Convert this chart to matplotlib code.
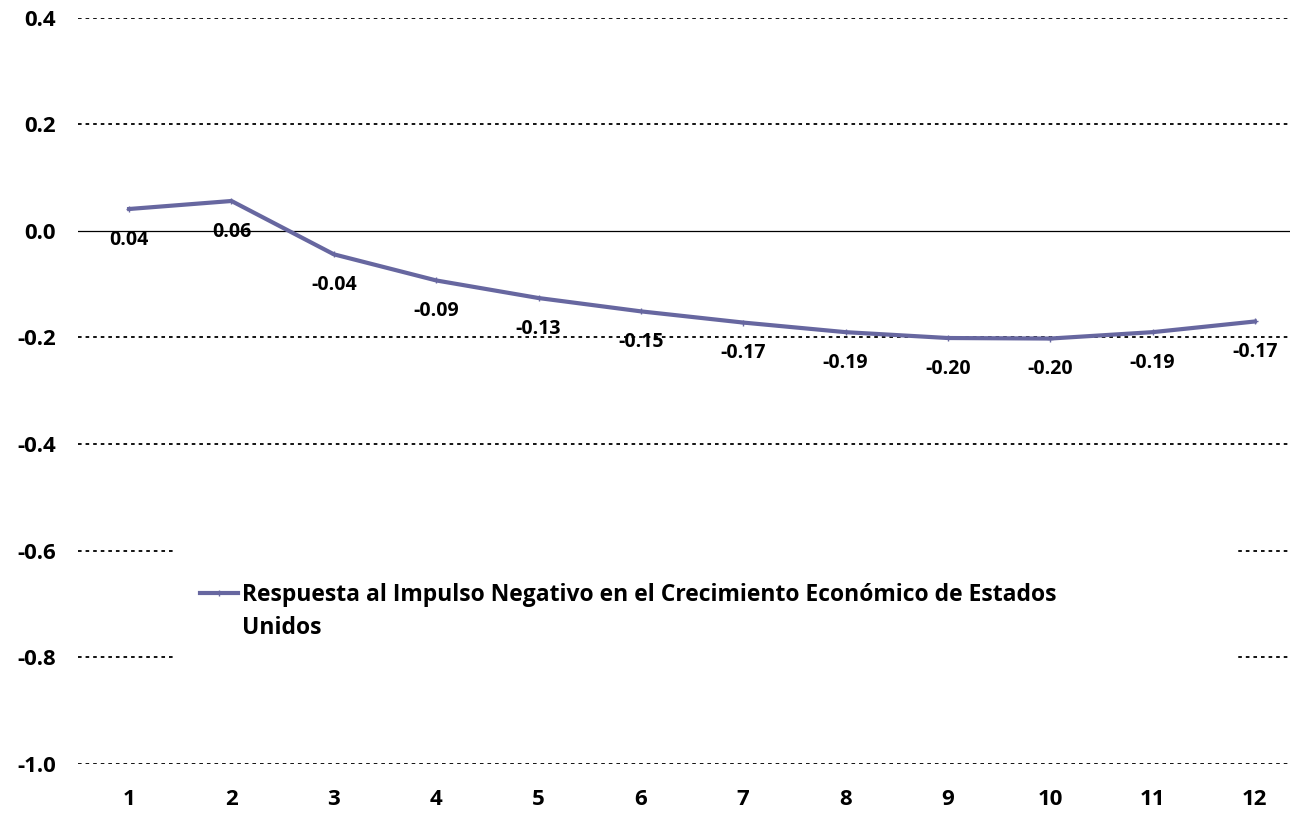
import matplotlib
matplotlib.use('Agg')
import matplotlib.pyplot as plt
from matplotlib.patches import Rectangle

# Datos
periodos = list(range(1, 13))
respuesta = [0.041, 0.056, -0.044, -0.093, -0.126, -0.151, -0.172, -0.190, -0.201, -0.202, -0.190, -0.170]
y_ticks = [0.4, 0.2, 0.0, -0.2, -0.4, -0.6, -0.8, -1.0]
serie_nombre = "Respuesta al Impulso Negativo en el Crecimiento Económico de Estados"
serie_nombre_2 = "Unidos"

plt.rcParams['font.family'] = ['Open Sans', 'DejaVu Sans']
plt.rcParams['font.weight'] = 'bold'

fig = plt.figure(figsize=(12.91, 8.14), dpi=100)
ax = fig.add_axes([0.0604, 0.0614, 0.9386, 0.917])

color_linea = '#6767A0'

# Rejilla punteada y línea de cero
for y in y_ticks:
    if y == 0.0:
        ax.axhline(y, color='black', lw=0.9, zorder=1)
    else:
        ax.axhline(y, color='black', lw=1.3, ls=(0, (2, 2.2)), zorder=1)

ax.plot(periodos, respuesta, color=color_linea, lw=3, marker='+', markersize=4,
        markeredgewidth=1, label=serie_nombre, zorder=3)
# segunda línea del texto de la leyenda (sin marca)
ax.plot([], [], color='none', label=serie_nombre_2)

for x, v in zip(periodos, respuesta):
    ax.annotate(f"{v:.2f}", (x, v), xytext=(0, -22), textcoords='offset points',
                ha='center', va='center', fontsize=14, fontweight='bold', zorder=4)

ax.set_xlim(0.5, 12.34)
ax.set_ylim(-1.0, 0.4)
ax.set_yticks(y_ticks)
ax.set_yticklabels([f"{v:.1f}" for v in y_ticks])
ax.set_xticks(periodos)
ax.tick_params(axis='both', length=0, labelsize=16)
ax.tick_params(axis='x', pad=18)
ax.tick_params(axis='y', pad=16)
for lbl in ax.get_xticklabels() + ax.get_yticklabels():
    lbl.set_fontweight('bold')
for s in ax.spines.values():
    s.set_visible(False)

# Fondo blanco de la leyenda
ax.add_patch(Rectangle((0.080, 0.125), 0.876, 0.175, transform=ax.transAxes,
                       facecolor='white', edgecolor='none', zorder=5))
leg = ax.legend(loc='upper left', bbox_to_anchor=(0.1007, 0.242), frameon=False,
                handlelength=1.65, handletextpad=0.2, borderaxespad=0, borderpad=0,
                labelspacing=0.38, prop={'weight': 'bold', 'size': 16.5})
leg.set_zorder(6)

plt.savefig('out.png', dpi=100, facecolor='white')
plt.close(fig)
